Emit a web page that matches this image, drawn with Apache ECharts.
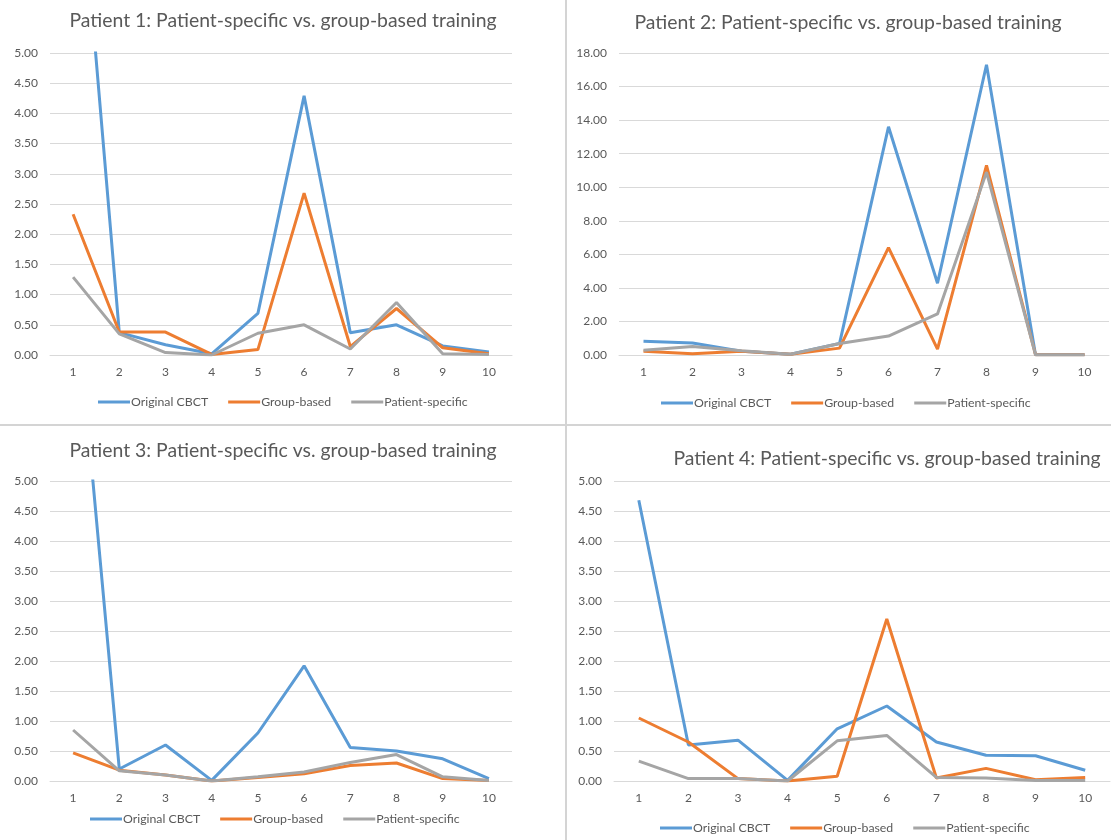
<!DOCTYPE html>
<html>
<head>
<meta charset="utf-8">
<script src="https://cdn.jsdelivr.net/npm/echarts@6/dist/echarts.min.js"></script>
<style>html,body{margin:0;padding:0;background:#fff}#c{width:1111px;height:840px}</style>
</head>
<body>
<div id="c"></div>
<script>
const categories = ['1','2','3','4','5','6','7','8','9','10'];
const seriesNames = ['Original CBCT','Group-based','Patient-specific'];
const titles = [
  'Patient 1: Patient-specific vs. group-based training',
  'Patient 2: Patient-specific vs. group-based training',
  'Patient 3: Patient-specific vs. group-based training',
  'Patient 4: Patient-specific vs. group-based training'
];
const yMax = [5, 18, 5, 5];
const yInterval = [0.5, 2, 0.5, 0.5];

const p1Original = [9.4, 0.37, 0.17, 0.02, 0.69, 4.29, 0.37, 0.50, 0.15, 0.05];
const p1Group    = [2.33, 0.38, 0.38, 0.01, 0.09, 2.68, 0.14, 0.77, 0.12, 0.02];
const p1Patient  = [1.29, 0.35, 0.04, 0.00, 0.36, 0.50, 0.10, 0.87, 0.02, 0.01];

const p2Original = [0.82, 0.72, 0.22, 0.05, 0.68, 13.6, 4.28, 17.3, 0.02, 0.02];
const p2Group    = [0.22, 0.07, 0.22, 0.05, 0.41, 6.4, 0.35, 11.3, 0.02, 0.02];
const p2Patient  = [0.28, 0.51, 0.25, 0.05, 0.68, 1.13, 2.45, 10.9, 0.02, 0.02];

const p3Original = [8.6, 0.20, 0.60, 0.01, 0.80, 1.92, 0.56, 0.50, 0.37, 0.04];
const p3Group    = [0.47, 0.18, 0.10, 0.00, 0.06, 0.12, 0.26, 0.30, 0.04, 0.01];
const p3Patient  = [0.85, 0.17, 0.10, 0.00, 0.07, 0.15, 0.31, 0.44, 0.07, 0.01];

const p4Original = [4.68, 0.60, 0.68, 0.01, 0.87, 1.25, 0.65, 0.43, 0.42, 0.18];
const p4Group    = [1.05, 0.65, 0.04, 0.00, 0.08, 2.70, 0.05, 0.21, 0.02, 0.06];
const p4Patient  = [0.33, 0.04, 0.04, 0.00, 0.67, 0.76, 0.06, 0.05, 0.01, 0.01];

const panelData = [
  [p1Original, p1Group, p1Patient],
  [p2Original, p2Group, p2Patient],
  [p3Original, p3Group, p3Patient],
  [p4Original, p4Group, p4Patient]
];
const colors = ['#5B9BD5', '#ED7D31', '#A5A5A5'];

const FONT = 'Lato';
const TXT = '#595959';

const grids = [
  {left: 50, top: 53, width: 462, height: 302},
  {left: 619, top: 53, width: 490, height: 302},
  {left: 50, top: 481, width: 462, height: 300},
  {left: 614, top: 481, width: 496, height: 300}
];
const titlePos = [
  {left: 283, top: 11},
  {left: 848, top: 13},
  {left: 283, top: 441},
  {left: 887, top: 449}
];
const legendPos = [
  {left: 98, top: 396},
  {left: 661, top: 397},
  {left: 90, top: 813},
  {left: 660, top: 822}
];

const option = {
  animation: false,
  color: colors,
  title: titles.map((t, i) => ({
    text: t, left: titlePos[i].left, top: titlePos[i].top, textAlign: 'center', padding: 0,
    textStyle: {fontFamily: FONT, fontSize: 19.4, fontWeight: 'normal', color: TXT}
  })),
  legend: legendPos.map(p => ({
    data: seriesNames, left: p.left, top: p.top, padding: 0, itemGap: 20,
    icon: 'rect', itemWidth: 32, itemHeight: 3,
    textStyle: {fontFamily: FONT, fontSize: 12.3, color: TXT, padding: [0, 0, 0, -4]}
  })),
  grid: grids.map(g => Object.assign({containLabel: false}, g)),
  xAxis: grids.map((g, i) => ({
    type: 'category', gridIndex: i, data: categories, boundaryGap: true,
    axisLine: {show: true, lineStyle: {color: '#d9d9d9', width: 1}},
    axisTick: {show: false},
    axisLabel: {fontFamily: FONT, fontSize: 12, color: TXT, margin: 11}
  })),
  yAxis: grids.map((g, i) => ({
    type: 'value', gridIndex: i, min: 0, max: yMax[i], interval: yInterval[i],
    axisLine: {show: false}, axisTick: {show: false},
    splitLine: {lineStyle: {color: '#d9d9d9', width: 1}},
    axisLabel: {fontFamily: FONT, fontSize: 12, color: TXT, margin: 12,
      formatter: v => v.toFixed(2)}
  })),
  series: [],
  graphic: [
    {type: 'line', shape: {x1: 566, y1: 0, x2: 566, y2: 840}, style: {stroke: '#d4d4d4', lineWidth: 2}},
    {type: 'line', shape: {x1: 0, y1: 425, x2: 1111, y2: 425}, style: {stroke: '#d4d4d4', lineWidth: 2}}
  ]
};

panelData.forEach((arrs, i) => {
  arrs.forEach((arr, k) => {
    option.series.push({
      name: seriesNames[k], type: 'line', xAxisIndex: i, yAxisIndex: i,
      data: arr, symbol: 'none', clip: true,
      lineStyle: {width: 3, color: colors[k]},
      itemStyle: {color: colors[k]}
    });
  });
});

const chart = echarts.init(document.getElementById('c'), null, {renderer: 'canvas'});
chart.setOption(option);
</script>
</body>
</html>
